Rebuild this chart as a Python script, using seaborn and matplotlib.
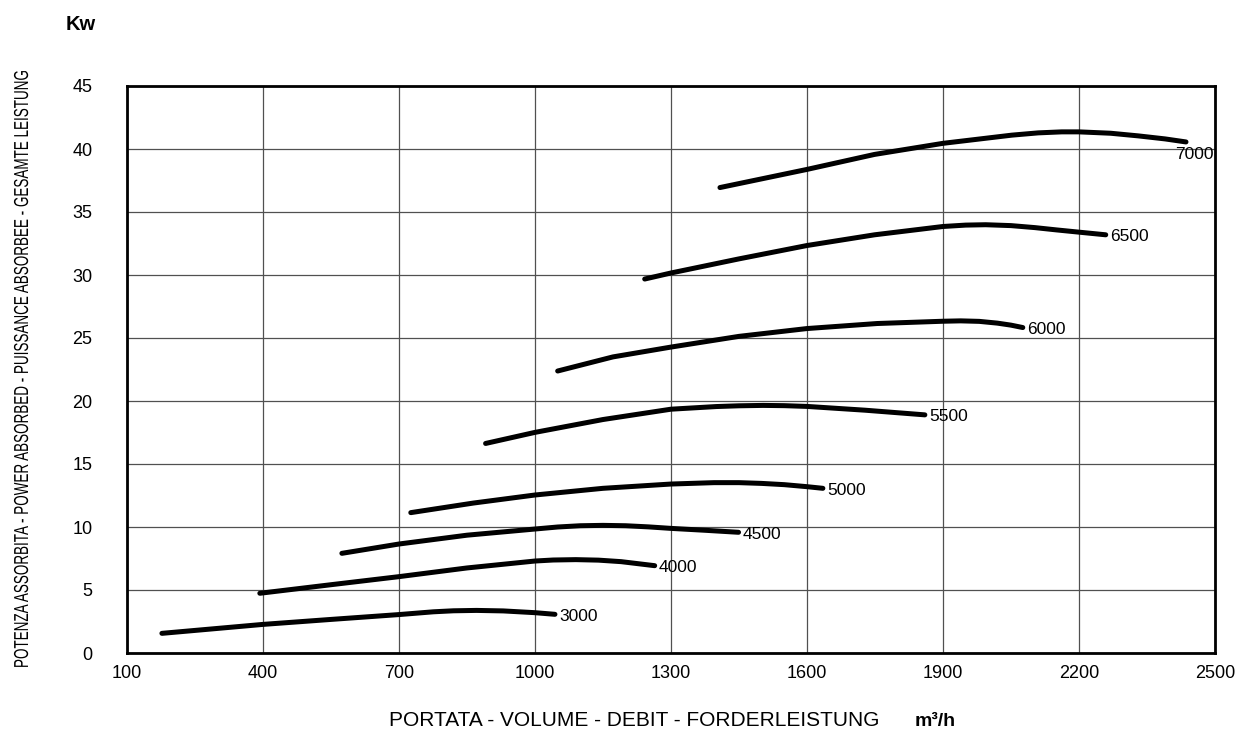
import numpy as np
import pandas as pd
import matplotlib
matplotlib.use("Agg")
import matplotlib.pyplot as plt
import seaborn as sns
from matplotlib.patheffects import AbstractPathEffect
from matplotlib.transforms import Affine2D

# ---- data ----
speeds = ["3000", "4000", "4500", "5000", "5500", "6000", "6500", "7000"]
x_3000 = [177, 400, 548, 700, 776, 820, 871, 930, 1000, 1044]
y_3000 = [1.56, 2.27, 2.66, 3.05, 3.27, 3.35, 3.38, 3.34, 3.20, 3.07]
x_4000 = [393, 550, 700, 850, 1000, 1040, 1090, 1140, 1190, 1264]
y_4000 = [4.74, 5.42, 6.06, 6.75, 7.30, 7.38, 7.41, 7.37, 7.25, 6.93]
x_4500 = [574, 700, 850, 1000, 1050, 1100, 1150, 1200, 1250, 1300, 1375, 1449]
y_4500 = [7.91, 8.65, 9.35, 9.84, 10.00, 10.10, 10.13, 10.10, 10.01, 9.89, 9.74, 9.58]
x_5000 = [726, 864, 1000, 1150, 1300, 1395, 1450, 1500, 1550, 1600, 1635]
y_5000 = [11.14, 11.90, 12.54, 13.07, 13.41, 13.52, 13.52, 13.46, 13.36, 13.20, 13.07]
x_5500 = [891, 1000, 1150, 1300, 1400, 1450, 1503, 1550, 1600, 1728, 1860]
y_5500 = [16.63, 17.51, 18.53, 19.35, 19.56, 19.62, 19.65, 19.63, 19.57, 19.27, 18.90]
x_6000 = [1050, 1172, 1300, 1450, 1600, 1755, 1900, 1939, 1980, 2020, 2050, 2076]
y_6000 = [22.38, 23.50, 24.28, 25.13, 25.75, 26.15, 26.33, 26.36, 26.32, 26.18, 26.02, 25.83]
x_6500 = [1242, 1300, 1450, 1600, 1749, 1900, 1950, 1994, 2050, 2103, 2150, 2200, 2259]
y_6500 = [29.68, 30.16, 31.28, 32.34, 33.19, 33.85, 33.96, 33.99, 33.92, 33.76, 33.58, 33.40, 33.19]
x_7000 = [1408, 1600, 1749, 1900, 2052, 2110, 2162, 2200, 2270, 2331, 2390, 2436]
y_7000 = [36.94, 38.38, 39.57, 40.45, 41.10, 41.28, 41.36, 41.36, 41.25, 41.04, 40.80, 40.56]

x_ticks = [100, 400, 700, 1000, 1300, 1600, 1900, 2200, 2500]
y_ticks = [0, 5, 10, 15, 20, 25, 30, 35, 40, 45]

xs = [x_3000, x_4000, x_4500, x_5000, x_5500, x_6000, x_6500, x_7000]
ys = [y_3000, y_4000, y_4500, y_5000, y_5500, y_6000, y_6500, y_7000]

frames = []
for s, xv, yv in zip(speeds, xs, ys):
    frames.append(pd.DataFrame({"rpm": s, "portata": xv, "kw": yv}))
df = pd.concat(frames, ignore_index=True)


class TallGlyphs(AbstractPathEffect):
    """Draw the text with taller glyphs (narrow-font look), keeping its length."""
    def __init__(self, sy):
        super().__init__()
        self.sy = sy

    def draw_path(self, renderer, gc, tpath, affine, rgbFace=None):
        renderer.draw_path(gc, tpath, Affine2D().scale(1, self.sy) + affine, rgbFace)


sns.set_theme(style="white")
plt.rcParams["font.family"] = ["Liberation Sans", "DejaVu Sans"]

fig = plt.figure(figsize=(12.37, 7.35), dpi=100)
ax = fig.add_axes([127 / 1237, 1 - 653 / 735, (1215 - 127) / 1237, (653 - 86) / 735])

sns.lineplot(data=df, x="portata", y="kw", hue="rpm", units="rpm", estimator=None,
             sort=False, palette=["black"] * len(speeds), legend=False,
             linewidth=3.6, ax=ax)
for ln in ax.lines:
    ln.set_solid_capstyle("round")
    ln.set_solid_joinstyle("round")

# curve labels
for s, xv, yv in zip(speeds, xs, ys):
    if s == "7000":
        ax.annotate(s, (xv[-1], yv[-1]), xytext=(8, -13), textcoords="offset pixels",
                    ha="center", va="center", fontsize=12.5, color="black")
    else:
        ax.annotate(s, (xv[-1], yv[-1]), xytext=(4, -2), textcoords="offset pixels",
                    ha="left", va="center", fontsize=12.5, color="black")

ax.set_xlim(100, 2500)
ax.set_ylim(0, 45)
ax.set_xticks(x_ticks)
ax.set_yticks(y_ticks)
ax.set_xticklabels([str(v) for v in x_ticks])
ax.set_yticklabels([str(v) for v in y_ticks])
ax.tick_params(axis="x", length=0, pad=8.5, labelsize=13, colors="black")
ax.tick_params(axis="y", length=0, pad=25, labelsize=13, colors="black")
ax.grid(True, color="#505050", linewidth=0.9)
ax.set_axisbelow(True)
for sp in ax.spines.values():
    sp.set_visible(True)
    sp.set_color("black")
    sp.set_linewidth(2.0)
ax.set_xlabel("")
ax.set_ylabel("")

fig.text(66 / 1237, 1 - 24 / 735, "Kw", fontsize=14.5, fontweight="bold",
         ha="left", va="center", color="black")
ylab = fig.text(28 / 1237, 1 - 668 / 735,
                "POTENZA ASSORBITA - POWER ABSORBED - PUISSANCE ABSORBEE - GESAMTE LEISTUNG",
                rotation=90, rotation_mode="anchor", fontsize=9.7,
                ha="left", va="baseline", color="black")
ylab.set_path_effects([TallGlyphs(1.5)])
fig.text(389 / 1237, 1 - 721 / 735, "PORTATA - VOLUME - DEBIT - FORDERLEISTUNG",
         fontsize=15, ha="left", va="center", color="black")
fig.text(915 / 1237, 1 - 721 / 735, "m³/h", fontsize=14, fontweight="bold",
         ha="left", va="center", color="black")

fig.savefig("out.png", dpi=100, facecolor="white")
